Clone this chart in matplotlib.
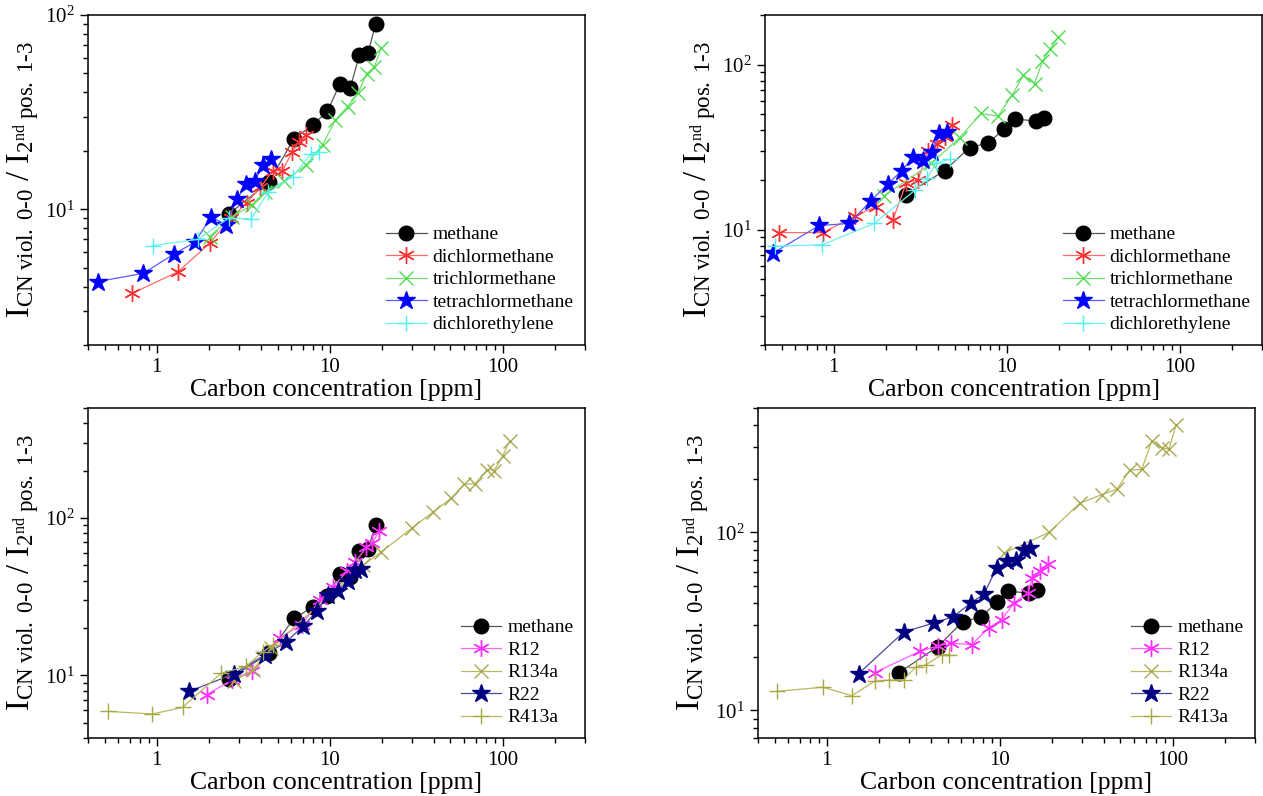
import matplotlib
matplotlib.use("Agg")
import matplotlib.pyplot as plt
from matplotlib.ticker import FixedLocator, LogLocator, NullFormatter, FixedFormatter

plt.rcParams['font.family'] = ['Liberation Serif', 'DejaVu Serif']
plt.rcParams['mathtext.fontset'] = 'custom'
plt.rcParams['mathtext.rm'] = 'Liberation Serif'
plt.rcParams['mathtext.it'] = 'Liberation Serif:italic'
plt.rcParams['mathtext.bf'] = 'Liberation Serif:bold'

# ---------------- data ----------------
# methane, first instrument setting (panels a and c)
methane_a_x = [2.63, 4.45, 6.2, 8.0, 9.7, 11.45, 13.15, 14.85, 16.65, 18.45]
methane_a_y = [9.5, 13.8, 23.0, 27.2, 31.9, 44.1, 42.0, 62.1, 63.5, 90.0]
# methane, second instrument setting (panels b and d)
methane_b_x = [2.62, 4.37, 6.1, 7.85, 9.6, 11.2, 14.7, 16.45]
methane_b_y = [16.3, 22.8, 31.4, 33.6, 40.5, 46.8, 45.6, 47.3]

# chlorinated hydrocarbons, setting a
dcm_a_x = [0.72, 1.33, 2.02, 2.68, 3.33, 3.98, 4.69, 5.33, 6.05, 6.63, 7.31]
dcm_a_y = [3.69, 4.77, 6.68, 8.99, 10.8, 13.0, 15.8, 15.8, 19.6, 22.1, 24.2]
tcm_a_x = [2.02, 2.74, 3.54, 4.23, 5.46, 7.31, 9.1, 10.8, 12.7, 14.6, 16.4, 18.1, 19.9]
tcm_a_y = [7.23, 9.17, 10.5, 12.3, 13.9, 16.9, 21.5, 28.8, 33.8, 39.6, 49.9, 53.8, 67.6]
tet_a_x = [0.456, 0.837, 1.26, 1.66, 2.07, 2.50, 2.92, 3.30, 3.69, 4.13, 4.57]
tet_a_y = [4.24, 4.68, 5.89, 6.76, 9.17, 8.27, 11.3, 13.5, 14.0, 16.9, 18.1]
dce_a_x = [0.95, 1.73, 2.6, 3.51, 4.4, 6.11, 7.8, 8.65]
dce_a_y = [6.5, 7.0, 9.0, 8.92, 12.2, 14.7, 19.3, 19.8]

# chlorinated hydrocarbons, setting b
dcm_b_x = [0.48, 0.87, 1.32, 1.75, 2.20, 2.63, 3.07, 3.52, 3.98, 4.38, 4.80]
dcm_b_y = [9.6, 9.6, 12.1, 13.8, 11.5, 19.3, 20.0, 30.1, 33.0, 36.2, 43.0]
tcm_b_x = [1.95, 3.67, 5.34, 7.11, 8.91, 10.8, 12.5, 14.5, 16.1, 17.9, 19.9]
tcm_b_y = [16.0, 25.2, 36.1, 50.6, 48.7, 65.9, 86.3, 76.8, 104.7, 125, 147]
tet_b_x = [0.447, 0.824, 1.23, 1.64, 2.05, 2.48, 2.88, 3.30, 3.71, 4.08, 4.50]
tet_b_y = [7.23, 10.6, 10.9, 15.0, 18.9, 22.8, 27.7, 26.5, 29.4, 38.7, 38.9]
dce_b_x = [0.456, 0.86, 1.71, 2.96, 3.47, 3.92, 4.72]
dce_b_y = [7.93, 8.11, 10.9, 17.4, 20.5, 25.5, 26.7]

# refrigerants, setting a
r12_a_x = [1.94, 2.74, 3.57, 5.17, 6.9, 8.83, 10.4, 12.6, 14.0, 16.3, 17.6, 19.4]
r12_a_y = [7.54, 9.38, 10.7, 17.4, 21.0, 30.3, 36.2, 45.8, 52.2, 65.1, 69.3, 83.0]
r134a_a_x = [2.8, 3.6, 4.6, 15.5, 19.9, 29.9, 39.6, 50.6, 60.1, 69.3, 81.6, 89.4, 100, 110]
r134a_a_y = [9.2, 10.8, 15.0, 50.0, 60.8, 86.3, 109, 134, 164, 165, 203, 200, 246, 310]
r22_a_x = [1.54, 2.78, 4.22, 5.58, 7.02, 8.40, 9.78, 11.2, 12.7, 14.0, 15.2]
r22_a_y = [7.91, 10.2, 13.5, 16.3, 20.5, 25.5, 32.2, 34.5, 40.0, 47.0, 47.5]
r413a_a_x = [0.52, 0.94, 1.41, 2.35, 3.27, 4.11, 4.72]
r413a_a_y = [5.91, 5.68, 6.26, 10.3, 11.4, 14.1, 15.7]

# refrigerants, setting b
r12_b_x = [1.89, 3.46, 4.39, 5.21, 6.9, 8.63, 10.3, 12.1, 14.6, 15.4, 17.1, 19.0]
r12_b_y = [16.3, 21.5, 23.0, 23.9, 23.4, 29.1, 32.4, 40.2, 45.7, 55.5, 60.4, 66.7]
r134a_b_x = [10.6, 19.3, 29.1, 39.0, 47.7, 56.6, 66.4, 75.9, 86.6, 95.3, 105]
r134a_b_y = [76.6, 100, 146, 163, 175, 224, 226, 328, 297, 294, 402]
r22_b_x = [1.53, 2.79, 4.17, 5.38, 6.84, 8.11, 9.61, 11.0, 12.4, 13.8, 15.0]
r22_b_y = [16.1, 27.6, 31.0, 33.6, 40.2, 45.1, 63.1, 68.8, 69.6, 79.3, 81.7]
r413a_b_x = [0.517, 0.948, 1.40, 1.89, 2.30, 2.79, 3.28, 3.74, 4.63, 5.07]
r413a_b_y = [12.8, 13.5, 12.1, 14.6, 14.8, 14.9, 17.6, 18.0, 20.6, 20.6]

x_ticks = [1, 10, 100]
x_tick_labels = ['1', '10', '100']

# ---------------- styles ----------------
ASTER = (6, 2, 0)
STYLE = {
    'methane':           dict(marker='o', ms=10.5, mfc='black', mec='black', color='#555555'),
    'dichlormethane':    dict(marker=ASTER, ms=12, mfc='none', mec='#ff3030', color='#ff6a6a', mew=1.0),
    'trichlormethane':   dict(marker='x', ms=10, mfc='none', mec='#50dc50', color='#70e070', mew=1.0),
    'tetrachlormethane': dict(marker='*', ms=13.5, mfc='#0000ff', mec='#0000ff', color='#5a5aff'),
    'dichlorethylene':   dict(marker='+', ms=11, mfc='none', mec='#50f0f0', color='#70f0f0', mew=1.0),
    'R12':               dict(marker=ASTER, ms=12, mfc='none', mec='#ff30ff', color='#ff60ff', mew=1.0),
    'R134a':             dict(marker='x', ms=10, mfc='none', mec='#a8a850', color='#b8b860', mew=1.0),
    'R22':               dict(marker='*', ms=13.5, mfc='#000080', mec='#000080', color='#4a4a9a'),
    'R413a':             dict(marker='+', ms=11, mfc='none', mec='#a8a840', color='#b8b860', mew=1.0),
}

panels = [
    dict(rect=(88, 15, 497, 330), ylim=(2, 100), series=[
        ('methane', methane_a_x, methane_a_y),
        ('dichlormethane', dcm_a_x, dcm_a_y),
        ('trichlormethane', tcm_a_x, tcm_a_y),
        ('tetrachlormethane', tet_a_x, tet_a_y),
        ('dichlorethylene', dce_a_x, dce_a_y)]),
    dict(rect=(765, 15, 497, 330), ylim=(2, 200), series=[
        ('methane', methane_b_x, methane_b_y),
        ('dichlormethane', dcm_b_x, dcm_b_y),
        ('trichlormethane', tcm_b_x, tcm_b_y),
        ('tetrachlormethane', tet_b_x, tet_b_y),
        ('dichlorethylene', dce_b_x, dce_b_y)]),
    dict(rect=(88, 408, 497, 330), ylim=(4, 500), series=[
        ('methane', methane_a_x, methane_a_y),
        ('R12', r12_a_x, r12_a_y),
        ('R134a', r134a_a_x, r134a_a_y),
        ('R22', r22_a_x, r22_a_y),
        ('R413a', r413a_a_x, r413a_a_y)]),
    dict(rect=(758, 408, 497, 330), ylim=(7, 500), series=[
        ('methane', methane_b_x, methane_b_y),
        ('R12', r12_b_x, r12_b_y),
        ('R134a', r134a_b_x, r134a_b_y),
        ('R22', r22_b_x, r22_b_y),
        ('R413a', r413a_b_x, r413a_b_y)]),
]

W, H = 1263, 796
fig = plt.figure(figsize=(W / 100, H / 100), dpi=100)

ylabel = r'$\mathregular{I_{CN\ viol.\ \text{0-0}}\ /\ I_{2^{nd}\ pos.\ \text{1-3}}}$'

for p in panels:
    l, t, w, h = p['rect']
    ax = fig.add_axes([l / W, 1 - (t + h) / H, w / W, h / H])
    for name, xs, ys in p['series']:
        st = dict(STYLE[name])
        ax.plot(xs, ys, lw=0.9, label=name, **st)
    ax.set_xscale('log')
    ax.set_yscale('log')
    ax.set_xlim(0.4, 300)
    ax.set_ylim(*p['ylim'])
    ax.xaxis.set_major_locator(FixedLocator(x_ticks))
    ax.xaxis.set_major_formatter(FixedFormatter(x_tick_labels))
    ax.xaxis.set_minor_locator(LogLocator(base=10, subs=range(2, 10), numticks=20))
    ax.xaxis.set_minor_formatter(NullFormatter())
    ax.yaxis.set_minor_locator(LogLocator(base=10, subs=range(2, 10), numticks=20))
    ax.yaxis.set_minor_formatter(NullFormatter())
    ax.tick_params(which='both', direction='out', width=1.0, labelsize=15, top=False, right=False)
    ax.tick_params(which='major', length=6)
    ax.tick_params(which='minor', length=3.5)
    for s in ax.spines.values():
        s.set_linewidth(1.1)
    ax.set_xlabel('Carbon concentration [ppm]', fontsize=18.5, labelpad=1)
    ax.set_ylabel(ylabel, fontsize=23.5, labelpad=3)
    ax.legend(loc='lower right', frameon=False, fontsize=14, handlelength=2.1,
              handletextpad=0.3, labelspacing=0.25, borderaxespad=0.2, numpoints=1)

fig.savefig('out.png', dpi=100)
